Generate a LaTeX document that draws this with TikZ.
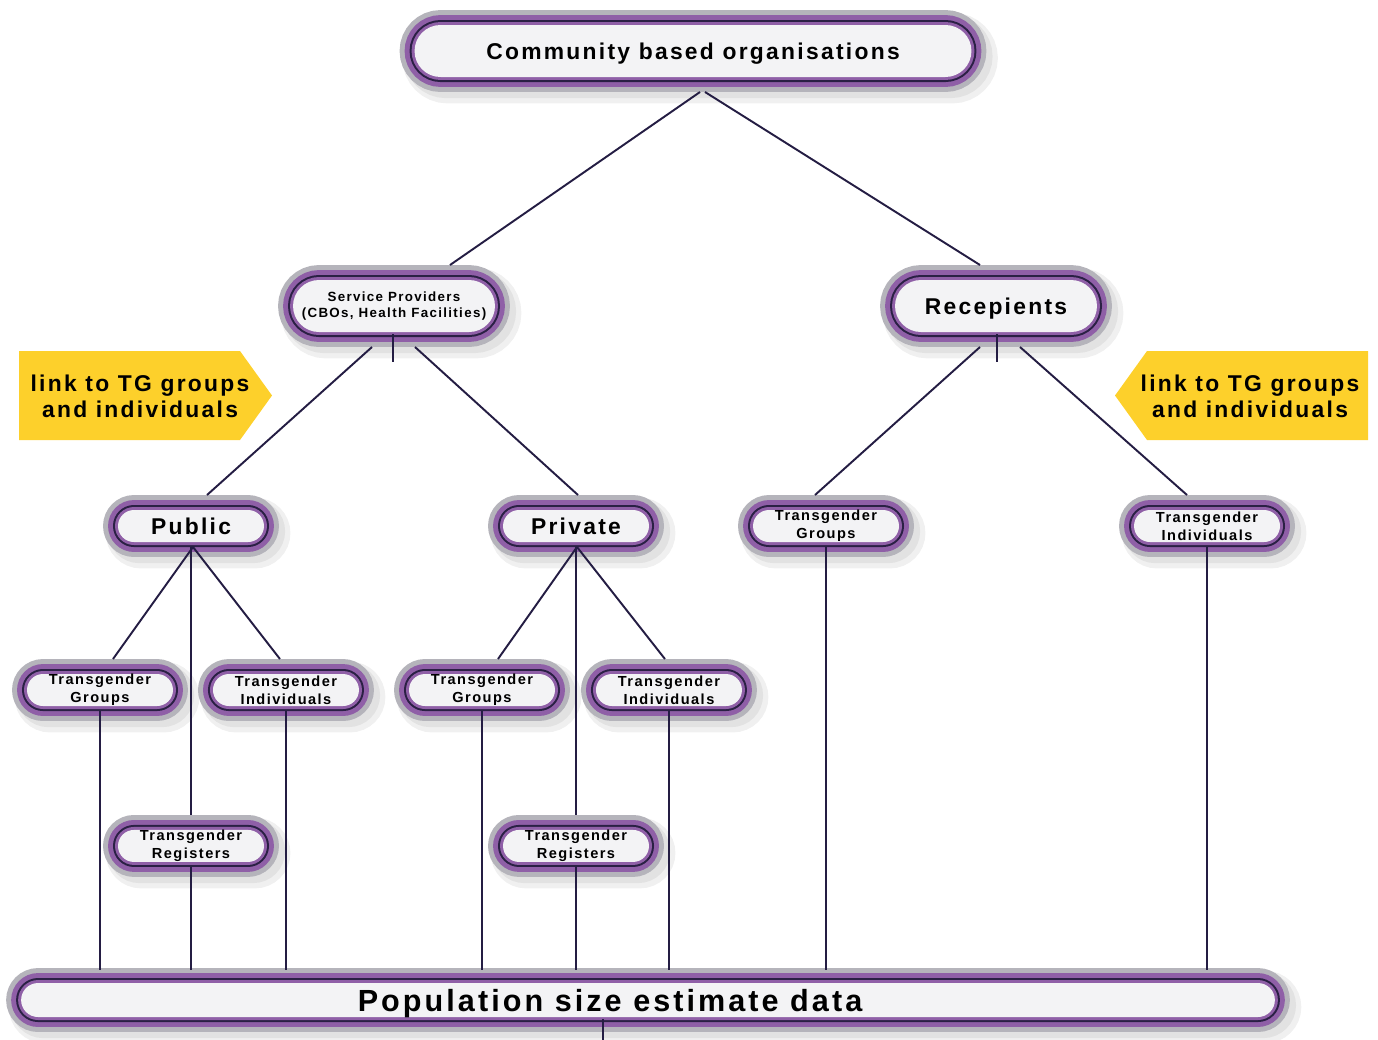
\documentclass[tikz,border=0pt]{standalone}
\usepackage{fontspec}
\setmainfont{Liberation Sans}[LetterSpace=10]
\usetikzlibrary{shapes.misc,calc,positioning}

\definecolor{ringgray}{HTML}{B5B4BB}
\definecolor{ringpurple}{HTML}{8F5FA7}
\definecolor{ringnavy}{HTML}{2A2044}
\definecolor{boxfill}{HTML}{F3F3F5}
\definecolor{linknavy}{HTML}{241D43}
\definecolor{tagyellow}{HTML}{FDD02B}

\begin{document}
\begin{tikzpicture}[x=0.02cm,y=-0.02cm,on grid,
    box/.style={rounded rectangle,inner sep=0pt,outer sep=0pt,align=center,
      text=black,fill=boxfill,
      preaction={draw=black,draw opacity=0.06,line width=22pt,
        transform canvas={xshift=4pt,yshift=-4pt}},
      preaction={draw=black,draw opacity=0.06,line width=18pt,
        transform canvas={xshift=3pt,yshift=-3pt}},
      preaction={draw=ringgray,line width=17pt},
      preaction={draw=ringpurple,line width=11.3pt},
      preaction={draw=ringnavy,line width=5.7pt},
      preaction={draw=ringpurple,line width=3.4pt}},
    big/.style={box,minimum width=#1,minimum height=1.04cm,text depth=0pt,
      font=\bfseries\fontsize{13}{15}\selectfont},
    mid/.style={box,minimum width=2.92cm,minimum height=0.64cm,text depth=0pt,
      font=\bfseries\fontsize{13}{15}\selectfont},
    small/.style={box,minimum width=2.92cm,minimum height=0.64cm,
      font=\bfseries\fontsize{8.3}{10.2}\selectfont},
    tag/.style={align=center,text=black,
      font=\bfseries\fontsize{13}{14.7}\selectfont},
    link/.style={draw=linknavy,line width=1.1pt}]
  \useasboundingbox (0,0) rectangle (1378,1039);

  % yellow tags
  \fill[tagyellow] (19,351) -- (240,351) -- (272,395.5) -- (240,440) -- (19,440) -- cycle;
  \fill[tagyellow] (1368,351) -- (1147,351) -- (1115,395.5) -- (1147,440) -- (1368,440) -- cycle;
  \node[tag] (tagl) at (140,396) {link to TG groups\\and individuals};
  \node[tag] (tagr) at (1250,396) {link to TG groups\\and individuals};

  % boxes
  \node[big=11.14cm] (cbo) at (693,51) {Community based organisations};
  \node[big=4.04cm,text depth=,font=\bfseries\fontsize{7.6}{9}\selectfont] (sp) at (394,306)
    {Service Providers\\(CBOs, Health Facilities)};
  \node[big=4.04cm] (rec) at (996,306) {Recepients};
  \node[mid] (pub) at (191,526) {Public};
  \node[mid] (priv) at (576,526) {Private};
  \node[small] (tgg) at (826,526) {Transgender\\Groups};
  \node[small] (tgi) at (1207,526) {Transgender\\Individuals};
  \node[small] (g1) at (100,690) {Transgender\\Groups};
  \node[small] (i1) [right=3.72cm of g1] {Transgender\\Individuals};
  \node[small] (g2) at (482,690) {Transgender\\Groups};
  \node[small] (i2) [right=3.74cm of g2] {Transgender\\Individuals};
  \node[small] (r1) [below=6.4cm of pub] {Transgender\\Registers};
  \node[small] (r2) [below=6.4cm of priv] {Transgender\\Registers};
  \node[box,minimum width=25.08cm,minimum height=0.68cm,text depth=0pt,
    font=\bfseries\fontsize{17.4}{19}\selectfont] (pop) at (648,1000)
    {Population size estimate data\hspace*{1.52cm}};

  % connectors
  \draw[link] ($(cbo.south)+(7,15)$) -- ($(sp.north)+(56,-15)$);
  \draw[link] ($(cbo.south)+(12,15)$) -- ($(rec.north)+(-16,-15)$);
  \draw[link] ($(sp.south)+(-22,15)$) -- ($(pub.north)+(16,-15)$);
  \draw[link] ($(sp.south)+(21,15)$) -- ($(priv.north)+(2,-15)$);
  \draw[link] ($(rec.south)+(-16,15)$) -- ($(tgg.north)+(-11,-15)$);
  \draw[link] ($(rec.south)+(24,15)$) -- ($(tgi.north)+(-20,-15)$);
  \draw[link] ($(sp.south)+(-1,2)$) -- ++(0,28);
  \draw[link] ($(rec.south)+(1,2)$) -- ++(0,28);

  \draw[link] ($(pub.south)+(2,5)$) -- ($(g1.north)+(13,-15)$);
  \draw[link] ($(pub.south)+(2,5)$) -- ($(i1.north)+(-6,-15)$);
  \draw[link] ($(pub.south)+(0,5)$) -- ($(r1.north)+(0,-15)$);
  \draw[link] ($(priv.south)+(1,5)$) -- ($(g2.north)+(16,-15)$);
  \draw[link] ($(priv.south)+(1,5)$) -- ($(i2.north)+(-4,-15)$);
  \draw[link] ($(priv.south)+(0,5)$) -- ($(r2.north)+(0,-15)$);

  \foreach \n in {g1,i1,g2,i2,r1,r2,tgg,tgi}
    \draw[link] ($(\n.south)+(0,5)$) -- ($(\n.south |- pop.north)+(0,-13)$);
  \draw[link] ($(pop.south)+(-45,2)$) -- ++(0,25);
\end{tikzpicture}
\end{document}
